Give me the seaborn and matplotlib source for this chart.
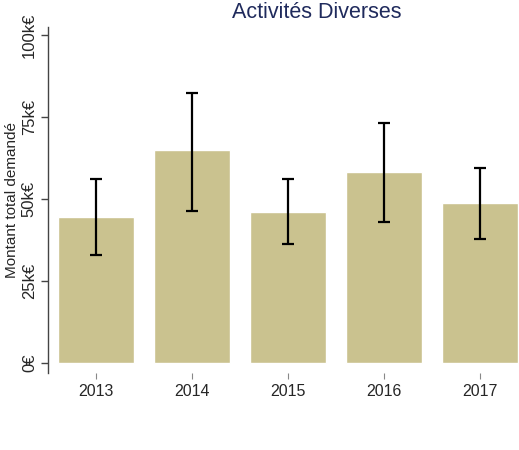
import numpy as np
import pandas as pd
import matplotlib
matplotlib.use('Agg')
import matplotlib.pyplot as plt
import seaborn as sns

# données (k€)
years = ['2013', '2014', '2015', '2016', '2017']
montants = [44.4, 64.8, 46.1, 58.2, 48.7]
err_bas = [32.9, 46.5, 36.4, 43.1, 37.8]
err_haut = [56.1, 82.4, 56.1, 73.3, 59.5]

sns.set_style('white')
plt.rcParams['font.family'] = ['Liberation Sans', 'DejaVu Sans']

df = pd.DataFrame({'Année': years, 'Montant': montants})

fig = plt.figure(figsize=(5.19, 4.5), dpi=100)
ax = fig.add_axes([48 / 519, 77 / 450, 480 / 519, 346 / 450])

sns.barplot(data=df, x='Année', y='Montant', color='#CAC28F', saturation=1,
            width=0.8, errorbar=None, ax=ax)

m = np.array(montants)
yerr = np.vstack([m - np.array(err_bas), np.array(err_haut) - m])
ax.errorbar(np.arange(len(years)), m, yerr=yerr, fmt='none', ecolor='black',
            elinewidth=1.6, capsize=4, capthick=1.6)

ax.set_xlim(-0.5, 4.5)
ax.set_ylim(-3, 102.4)
ax.set_yticks([0, 25, 50, 75, 100])
ax.set_yticklabels(['0€', '25k€', '50k€', '75k€', '100k€'], rotation=90, va='center')
ax.tick_params(axis='y', length=5, width=1, color='#444444', labelsize=12, pad=3, left=True)
ax.tick_params(axis='x', length=4, width=0.8, color='#888888', labelsize=11.5, pad=4, bottom=True)
for s in ['top', 'right', 'bottom']:
    ax.spines[s].set_visible(False)
ax.spines['left'].set_color('#444444')
ax.spines['left'].set_linewidth(1)
ax.set_xlabel('')
ax.set_ylabel('Montant total demandé', fontsize=11, labelpad=2)

fig.text(317 / 519, 1 - 12 / 450, 'Activités Diverses', ha='center', va='center',
         fontsize=15.5, color='#1F2A5C')

fig.savefig('out.png', dpi=100)
